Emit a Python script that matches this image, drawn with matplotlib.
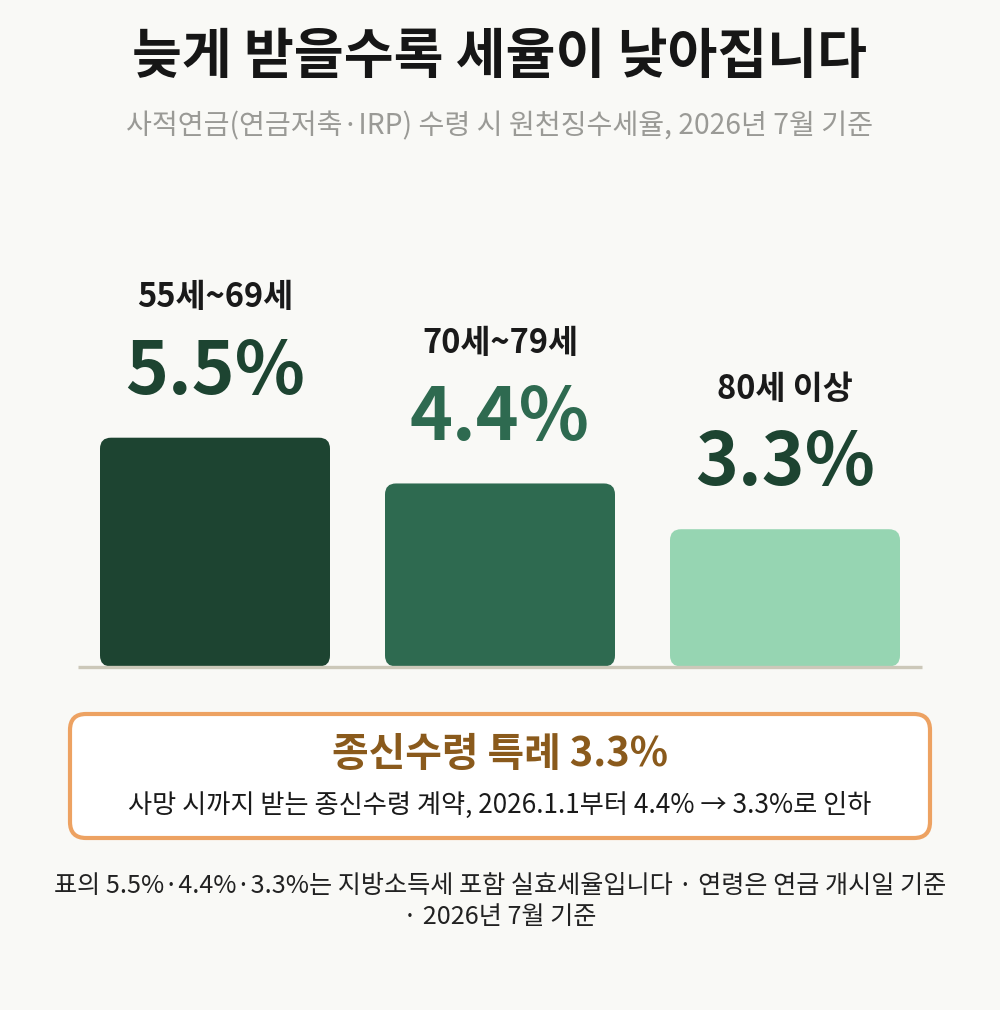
import matplotlib
matplotlib.use("Agg")
import matplotlib.pyplot as plt
from matplotlib.patches import FancyBboxPatch

plt.rcParams['font.family'] = ['Noto Sans CJK KR', 'DejaVu Sans']

# ---- data ----
categories = ["55세~69세", "70세~79세", "80세 이상"]
rates = [5.5, 4.4, 3.3]
rate_labels = ["5.5%", "4.4%", "3.3%"]
bar_colors = ["#1d4431", "#2e6a50", "#96d5b2"]
label_colors = ["#1d4431", "#2e6a50", "#1d4431"]

title = "늦게 받을수록 세율이 낮아집니다"
subtitle = "사적연금(연금저축·IRP) 수령 시 원천징수세율, 2026년 7월 기준"
box_title = "종신수령 특례 3.3%"
box_text = "사망 시까지 받는 종신수령 계약, 2026.1.1부터 4.4% → 3.3%로 인하"
foot1 = "표의 5.5%·4.4%·3.3%는 지방소득세 포함 실효세율입니다 · 연령은 연금 개시일 기준"
foot2 = "· 2026년 7월 기준"

W, H = 1000, 1010
BG = "#f9f9f6"
fig = plt.figure(figsize=(W / 100, H / 100), dpi=100, facecolor=BG)

def fy(py):
    return 1 - py / H

# ---- bar axes ----
px_per_unit = 41.6
ax_top, ax_bot = 150, 666.5
ax = fig.add_axes([78 / W, fy(ax_bot), (922 - 78) / W, (ax_bot - ax_top) / H])
ax.set_facecolor("none")
x = list(range(len(rates)))
bw = 230 / 285
bars = ax.bar(x, rates, width=bw, color=bar_colors)
ax.set_xlim(-0.5 + (0.5 - 137 / 285), 2 + 137 / 285)
ax.set_ylim(0, (ax_bot - ax_top) / px_per_unit)
ax.axis("off")

# convert to rounded bars
aspect = 285 / px_per_unit
r = 11 / 285
for b, c in zip(bars, bar_colors):
    b.set_visible(False)
    bx, by = b.get_x(), b.get_y()
    bwid, bh = b.get_width(), b.get_height()
    p = FancyBboxPatch((bx, by), bwid, bh,
                       boxstyle=f"round,pad=0,rounding_size={r}",
                       mutation_aspect=aspect, facecolor=c, edgecolor="none", zorder=2)
    ax.add_patch(p)

ax.axhline(0, color="#ccc8b9", lw=2.4, zorder=3, solid_capstyle="butt", clip_on=False)

for xi, v, lab, cat, lc in zip(x, rates, rate_labels, categories, label_colors):
    ax.annotate(lab, (xi, v), xytext=(0, 65 * 0.72), textcoords="offset points",
                ha="center", va="center", fontsize=52.5, fontweight="bold", color=lc)
    ax.annotate(cat, (xi, v), xytext=(0, 140 * 0.72), textcoords="offset points",
                ha="center", va="center", fontsize=23.5, fontweight="bold", color="#1a1a1a")

# ---- titles ----
fig.text(0.5, fy(58), title, ha="center", va="center", fontsize=39,
         fontweight="black", color="#161616")
fig.text(0.5, fy(126), subtitle, ha="center", va="center", fontsize=20.3,
         color="#9a9a96")

# ---- callout box ----
box = FancyBboxPatch((70 / W, fy(838)), (930 - 70) / W, (838 - 714) / H,
                     boxstyle="round,pad=0,rounding_size=0.016",
                     transform=fig.transFigure, facecolor="white",
                     edgecolor="#eda262", lw=3.0, mutation_aspect=W / H)
fig.patches.append(box)
fig.text(0.5, fy(754), box_title, ha="center", va="center", fontsize=28.7,
         fontweight="bold", color="#8a5a1c")
fig.text(0.5, fy(805), box_text, ha="center", va="center", fontsize=18.9,
         fontweight="medium", color="#1a1a1a")

# ---- footnote ----
fig.text(0.5, fy(886), foot1, ha="center", va="center", fontsize=18.1,
         color="#222222")
fig.text(0.5, fy(917), foot2, ha="center", va="center", fontsize=18.1,
         color="#222222")

fig.savefig("out.png", dpi=100, facecolor=BG)
